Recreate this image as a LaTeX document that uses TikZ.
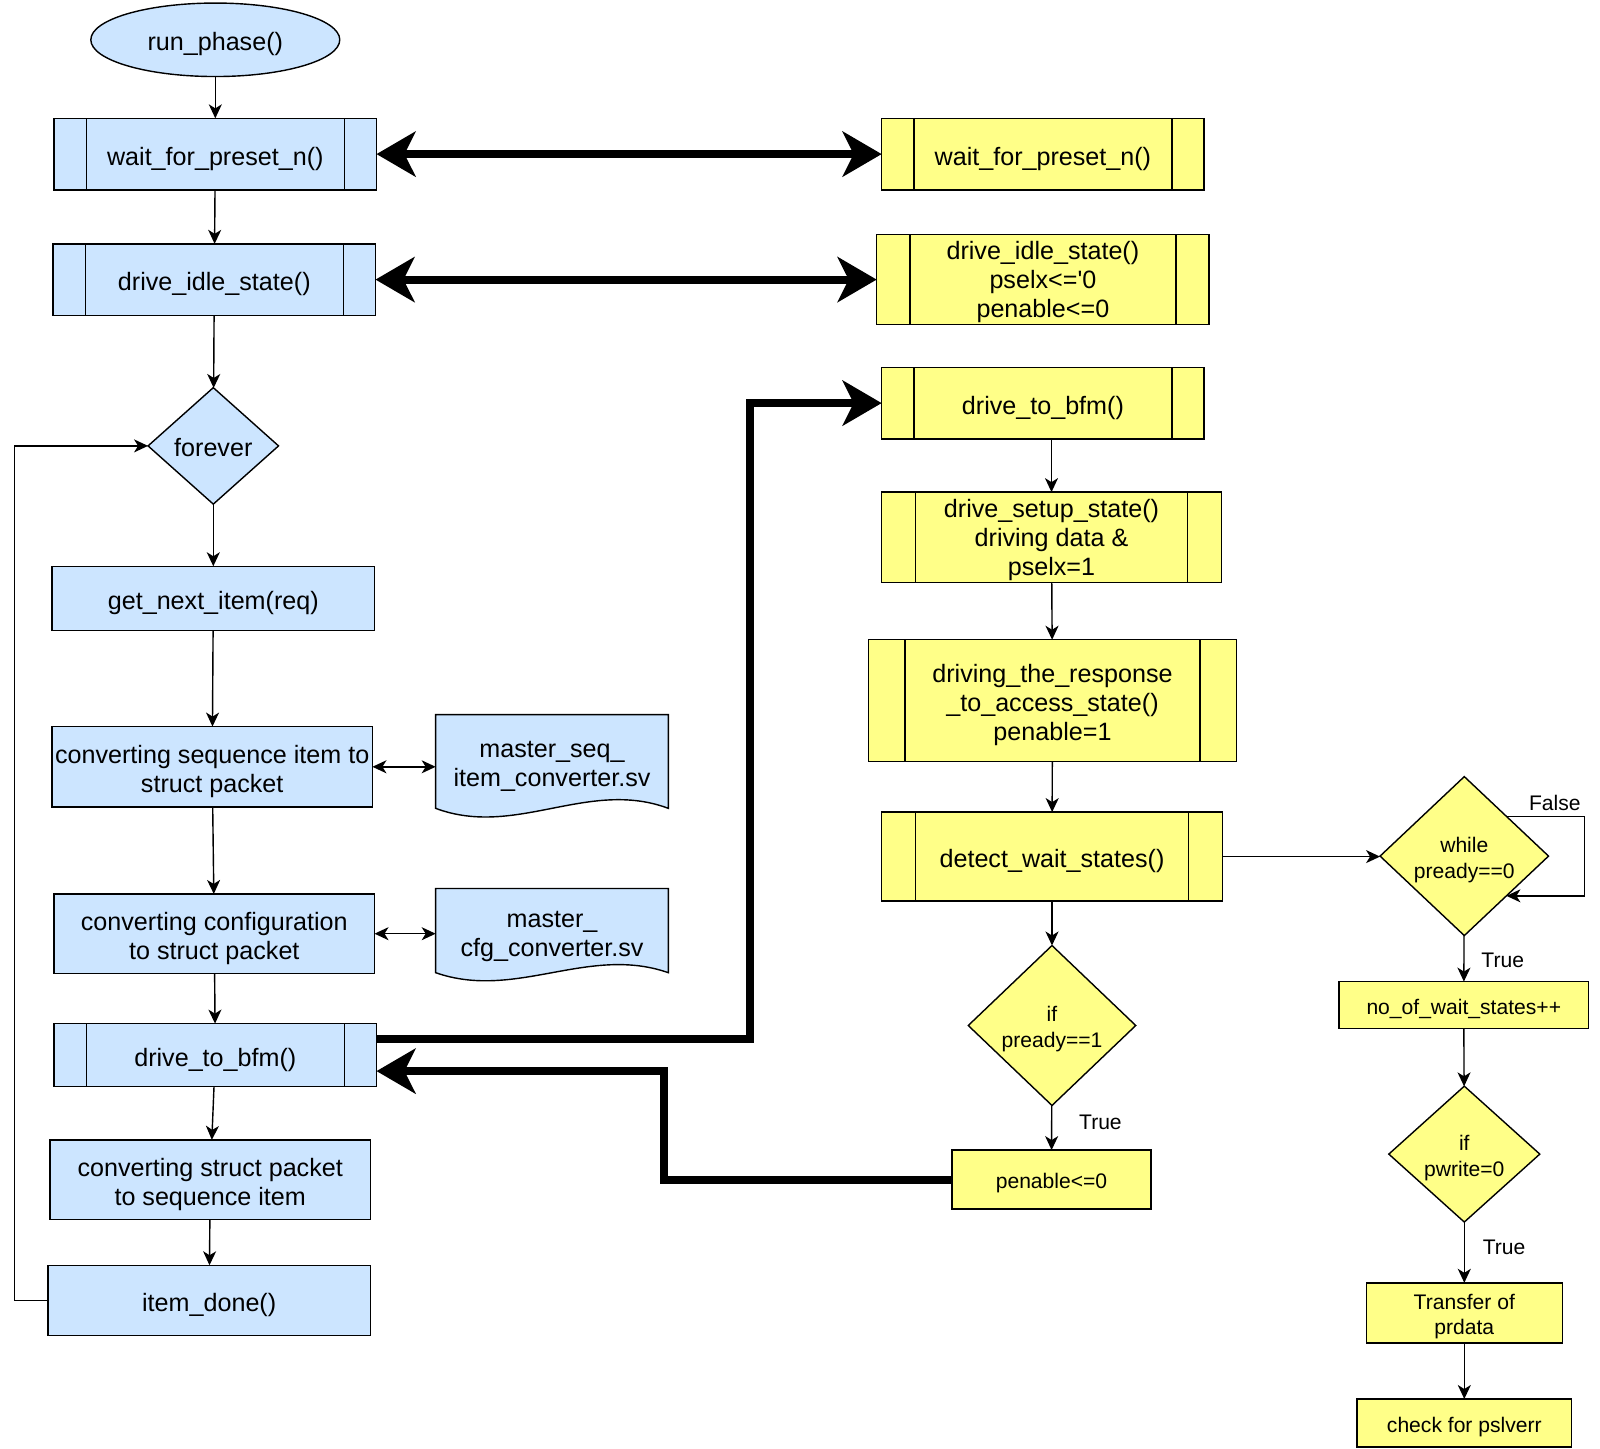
\documentclass[tikz,border=0pt]{standalone}
\usepackage{fontspec}
\setmainfont{Liberation Sans}
\usepackage{tikz}
\usetikzlibrary{shapes.geometric, arrows.meta, positioning, calc, backgrounds}
\definecolor{boxblue}{HTML}{CCE5FF}
\definecolor{boxyellow}{HTML}{FFFF88}
\newcommand{\bigfont}{\fontsize{14.3}{16.5}\selectfont}
\newcommand{\smallfont}{\fontsize{12}{14.5}\selectfont}
\newcommand{\topstrut}{\rule{0pt}{1.15em}}
\newcommand{\botstrut}{\rule[-0.28em]{0pt}{0pt}}
\newcommand{\tightstrut}{\rule{0pt}{1em}}
\tikzstyle{lowtext} = [execute at begin node={\topstrut}, execute at end node={\botstrut}]
\tikzstyle{startstop} = [ellipse, draw=black, line width=0.8pt, fill=boxblue, font=\bigfont, inner sep=0pt, outer sep=0pt, lowtext]
\tikzstyle{process} = [rectangle, draw=black, line width=0.8pt, align=center, font=\bigfont, inner sep=1pt, outer sep=0pt, lowtext]
\tikzstyle{subproc} = [process, path picture={
    \draw[line width=0.8pt] ($(path picture bounding box.north west)!0.1!(path picture bounding box.north east)$) -- ($(path picture bounding box.south west)!0.1!(path picture bounding box.south east)$)
    ($(path picture bounding box.north east)!0.1!(path picture bounding box.north west)$) -- ($(path picture bounding box.south east)!0.1!(path picture bounding box.south west)$);}]
\tikzstyle{decision} = [diamond, draw=black, line width=0.8pt, align=center, font=\smallfont, inner sep=0pt, outer sep=0pt, fill=boxyellow, lowtext]
\tikzstyle{doc} = [align=center, font=\bigfont, inner sep=0pt, lowtext]
\tikzstyle{docline} = [draw=black, line width=0.8pt, fill=boxblue]
\tikzstyle{lbl} = [font=\smallfont, inner sep=1pt]
\tikzstyle{arrow} = [line width=0.8pt, -{Stealth[length=0.28cm, width=0.26cm, inset=0.08cm]}]
\tikzstyle{biarrow} = [line width=0.8pt, {Stealth[length=0.28cm, width=0.26cm, inset=0.08cm]}-{Stealth[length=0.28cm, width=0.26cm, inset=0.08cm]}]
\tikzstyle{bigarrow} = [line width=4.5pt, -{Stealth[length=0.78cm, width=0.9cm, inset=0.22cm]}]
\tikzstyle{bigbiarrow} = [line width=4.5pt, {Stealth[length=0.78cm, width=0.9cm, inset=0.22cm]}-{Stealth[length=0.78cm, width=0.9cm, inset=0.22cm]}]

\begin{document}
\begin{tikzpicture}[x=0.02cm, y=-0.02cm]
    \useasboundingbox (0,0) rectangle (1600,1449);

    % left column
    \node (run) [startstop, minimum width=4.98cm, minimum height=1.47cm] at (215.3,39.8) {run\_phase()};
    \node (waitL) [subproc, fill=boxblue, minimum width=6.45cm, minimum height=1.43cm] at (215.3,154.1) {wait\_for\_preset\_n()};
    \node (idleL) [subproc, fill=boxblue, minimum width=6.45cm, minimum height=1.43cm] at (214.3,279.6) {drive\_idle\_state()};
    \node (forever) [decision, fill=boxblue, font=\bigfont, minimum width=2.61cm, minimum height=2.33cm] at (213.3,445.9) {forever};
    \node (getnext) [process, fill=boxblue, minimum width=6.45cm, minimum height=1.29cm] at (213.3,598.5) {get\_next\_item(req)};
    \node (convseq) [process, fill=boxblue, minimum width=6.41cm, minimum height=1.61cm] at (212.2,766.8) {\topstrut converting sequence item to\\struct packet\botstrut};
    \node (convcfg) [process, fill=boxblue, minimum width=6.41cm, minimum height=1.59cm] at (214.3,933.7) {\topstrut converting configuration\\to struct packet\botstrut};
    \node (bfmL) [subproc, fill=boxblue, minimum width=6.45cm, minimum height=1.26cm] at (215.3,1055.1) {drive\_to\_bfm()};
    \node (convstruct) [process, fill=boxblue, minimum width=6.41cm, minimum height=1.59cm] at (210.2,1179.6) {\topstrut converting struct packet\\to sequence item\botstrut};
    \node (itemdone) [process, fill=boxblue, minimum width=6.45cm, minimum height=1.41cm] at (209.2,1300.5) {item\_done()};

    % converter files
    \node (seqdoc) [doc, minimum width=4.64cm, minimum height=1.86cm] at (552,761.5) {\topstrut master\_seq\_\\item\_converter.sv\botstrut};
    \node (cfgdoc) [doc, minimum width=4.64cm, minimum height=1.67cm] at (552,930.6) {\topstrut master\_\\cfg\_converter.sv\botstrut};
    \begin{scope}[on background layer]
        \draw[docline] (seqdoc.south west) -- (seqdoc.north west) -- (seqdoc.north east) -- (seqdoc.south east)
            .. controls +(-80,-30) and +(80,30) .. (seqdoc.south west) -- cycle;
        \draw[docline] (cfgdoc.south west) -- (cfgdoc.north west) -- (cfgdoc.north east) -- (cfgdoc.south east)
            .. controls +(-80,-28) and +(80,28) .. (cfgdoc.south west) -- cycle;
    \end{scope}

    % right column
    \node (waitR) [subproc, fill=boxyellow, minimum width=6.45cm, minimum height=1.43cm] at (1042.9,154.1) {wait\_for\_preset\_n()};
    \node (idleR) [subproc, fill=boxyellow, inner ysep=0pt, minimum width=6.65cm, minimum height=1.76cm] at (1042.9,279.6) {\tightstrut drive\_idle\_state()\\pselx<=\textquotesingle 0\\penable<=0};
    \node (bfmR) [subproc, fill=boxyellow, minimum width=6.45cm, minimum height=1.43cm] at (1042.9,403.1) {drive\_to\_bfm()};
    \node (setup) [subproc, fill=boxyellow, inner ysep=0pt, minimum width=6.80cm, minimum height=1.77cm] at (1051.5,537.2) {\tightstrut drive\_setup\_state()\\driving data \&\\pselx=1};
    \node (response) [subproc, fill=boxyellow, minimum width=7.37cm, minimum height=2.43cm] at (1052.5,700.5) {\topstrut driving\_the\_response\\\_to\_access\_state()\\penable=1\botstrut};
    \node (detect) [subproc, fill=boxyellow, minimum width=6.82cm, minimum height=1.78cm] at (1052,856.6) {detect\_wait\_states()};
    \node (ifready) [decision, minimum width=3.35cm, minimum height=3.20cm] at (1052,1025.5) {\topstrut if\\pready==1\botstrut};
    \node (penable) [process, fill=boxyellow, font=\smallfont, minimum width=3.98cm, minimum height=1.18cm] at (1051.5,1179.6) {penable<=0};

    \node (while) [decision, minimum width=3.37cm, minimum height=3.18cm] at (1464.3,856.1) {\topstrut while\\pready==0\botstrut};
    \node (nowait) [process, fill=boxyellow, font=\smallfont, minimum width=5.0cm, minimum height=0.94cm] at (1463.8,1005.1) {no\_of\_wait\_states++};
    \node (ifwrite) [decision, minimum width=3.02cm, minimum height=2.71cm] at (1464.3,1154.1) {\topstrut if\\pwrite=0\botstrut};
    \node (transfer) [process, fill=boxyellow, font=\smallfont, minimum width=3.92cm, minimum height=1.20cm] at (1464.3,1312.8) {\topstrut Transfer of\\prdata\botstrut};
    \node (check) [process, fill=boxyellow, font=\smallfont, minimum width=4.29cm, minimum height=0.96cm] at (1464.3,1423) {check for pslverr};

    \coordinate (bfmOut) at ($(bfmL.east)+(0,-16)$);
    \coordinate (bfmIn) at ($(bfmL.east)+(0,16)$);
    \coordinate (loopA) at ($(while.north)!0.5!(while.east)$);
    \coordinate (loopB) at ($(while.south)!0.5!(while.east)$);

    % left flow
    \draw [arrow] (run) -- (waitL);
    \draw [arrow] (waitL) -- (idleL);
    \draw [arrow] (idleL) -- (forever);
    \draw [arrow] (forever) -- (getnext);
    \draw [arrow] (getnext) -- (convseq);
    \draw [arrow] (convseq) -- (convcfg);
    \draw [arrow] (convcfg) -- (bfmL);
    \draw [arrow] (bfmL) -- (convstruct);
    \draw [arrow] (convstruct) -- (itemdone);
    \draw [arrow] (itemdone.west) -- ++(-33.7,0) |- (forever.west);
    \draw [biarrow] (convseq.east) -- (convseq.east -| seqdoc.west);
    \draw [biarrow] (convcfg.east) -- (convcfg.east -| cfgdoc.west);

    % right flow
    \draw [arrow] (setup.north |- bfmR.south) -- (setup);
    \draw [arrow] (setup) -- (response);
    \draw [arrow] (response) -- (detect);
    \draw [arrow] (detect) -- (ifready);
    \draw [arrow] (ifready) -- node[lbl, pos=0.38, anchor=west, xshift=0.5cm] {True} (penable);
    \draw [arrow] (detect.east) -- (detect.east -| while.west);
    \draw [arrow] (loopA) -- ++(78,0) node[lbl, pos=0.62, above, yshift=0.06cm] {False} |- (loopB);
    \draw [arrow] (while) -- node[lbl, pos=0.53, anchor=west, xshift=0.3cm] {True} (nowait);
    \draw [arrow] (nowait) -- (ifwrite);
    \draw [arrow] (ifwrite) -- node[lbl, pos=0.41, anchor=west, xshift=0.32cm] {True} (transfer);
    \draw [arrow] (transfer) -- (check);

    % links between the two sides
    \draw [bigbiarrow] (waitL) -- (waitR);
    \draw [bigbiarrow] (idleL) -- (idleR);
    \draw [bigarrow] (bfmOut) -- ++(373.5,0) |- (bfmR.west);
    \draw [bigarrow] (penable.west) -- ++(-287.7,0) |- (bfmIn);
\end{tikzpicture}
\end{document}
